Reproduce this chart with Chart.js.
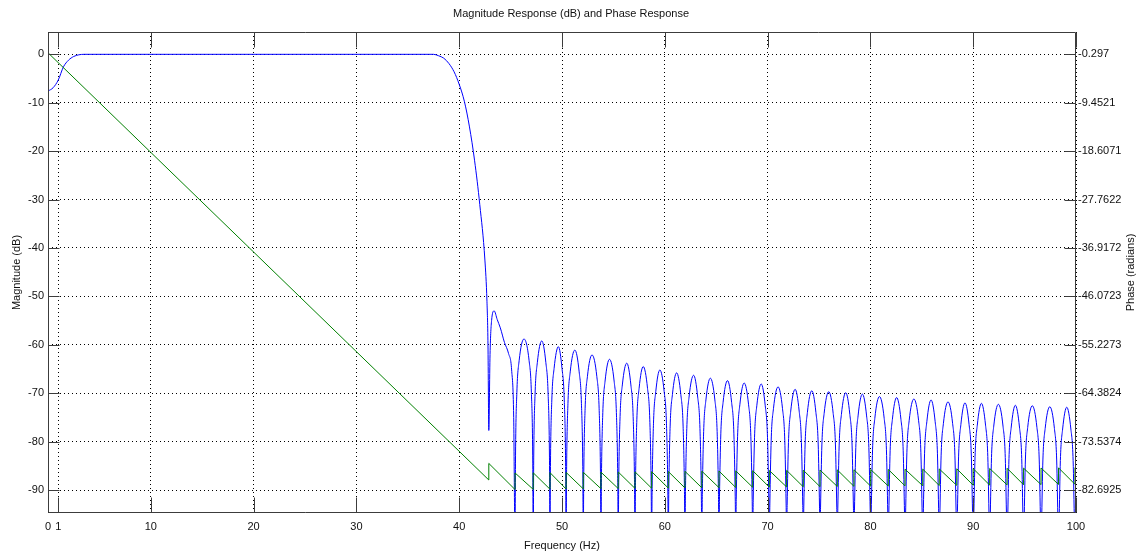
<!DOCTYPE html>
<html>
<head>
<meta charset="utf-8">
<title>Magnitude Response (dB) and Phase Response</title>
<script src="https://cdn.jsdelivr.net/npm/chart.js@4.4.1/dist/chart.umd.min.js"></script>
<style>
    html, body { margin: 0; padding: 0; background: #fff; }
    #wrap { width: 1142px; height: 559px; position: relative; }
</style>
</head>
<body>
<div id="wrap"><canvas id="freqChart"></canvas></div>
<script>
// tick labels
const freqTicks = [0, 1, 10, 20, 30, 40, 50, 60, 70, 80, 90, 100];
const magTicks = [0, -10, -20, -30, -40, -50, -60, -70, -80, -90];
const phaseTicks = [-0.297, -9.4521, -18.6071, -27.7622, -36.9172, -46.0723, -55.2273, -64.3824, -73.5374, -82.6925];

// axis limits (dB)
const yMin = -94.75;
const yMax = 4.61;

// passband + transition band + first sidelobe
const passFreq = [0, 0.5, 1, 1.5, 2, 2.5, 3, 3.5, 37.5, 38, 38.5, 39, 39.5, 40, 40.5, 41, 41.5, 42, 42.5, 42.7, 42.8, 42.88, 43.0, 43.15, 43.4, 43.7, 44, 44.4, 44.8, 45.1, 45.3];
const passDb   = [-7.6, -6.9, -5.3, -2.6, -1.2, -0.45, -0.1, 0, 0, -0.3, -0.8, -1.9, -3.6, -6.2, -9.7, -15, -22, -31, -42.5, -51, -60, -77.7, -62, -55, -53, -54.8, -56.5, -59.5, -61.8, -65.2, -75];

// stopband nulls and sidelobe peaks
const nullFreq = [45.43, 47.2, 48.83, 50.4, 52.07, 53.79, 55.47, 57.1, 58.72, 60.34, 61.96, 63.6, 65.27, 66.9, 68.55, 70.17, 71.85,
                  73.47, 75.1, 76.78, 78.4, 80.03, 81.74, 83.37, 85.09, 86.7, 88.4, 90.0, 91.6, 93.3, 94.9, 96.6, 98.3, 99.9];
const peakFreq = [46.3, 48.03, 49.65, 51.25, 52.92, 54.62, 56.3, 57.9, 59.52, 61.15, 62.8, 64.43, 66.1, 67.72, 69.38, 71.02, 72.68,
                  74.3, 75.95, 77.6, 79.22, 80.88, 82.55, 84.23, 85.9, 87.55, 89.2, 90.8, 92.45, 94.1, 95.75, 97.45, 99.1];
const peakDb   = [-58.8, -59.2, -60.4, -61.1, -62.1, -63.0, -63.8, -64.5, -65.2, -65.8, -66.3, -66.9, -67.4, -67.9, -68.1, -68.7, -69.2,
                  -69.5, -69.7, -69.9, -70.2, -70.7, -70.9, -71.2, -71.4, -71.8, -72.0, -72.1, -72.3, -72.5, -72.6, -72.8, -72.9];
const nullDb = -100;   // nulls run off the bottom of the axes
const endDb = -81;     // value at 100 Hz

// shape of one sidelobe: distance from a null (Hz) and drop below the peak (dB)
const lobeEdge = [0.05, 0.18, 0.4];
const lobeDrop = [24, 11, 4.5];

// phase (radians): linear part, then the sawtooth at each null
const phaseStartFreq = [0, 42.88, 42.88];
const phaseStartRad  = [0, -80.8, -77.66];
const phaseLow  = [-82.60, -82.57, -82.54, -82.51, -82.48, -82.45, -82.42, -82.39, -82.36, -82.33, -82.30, -82.27, -82.24, -82.21, -82.18, -82.15, -82.12,
                   -82.09, -82.06, -82.03, -82.00, -81.97, -81.94, -81.91, -81.88, -81.85, -81.82, -81.79, -81.76, -81.73, -81.70, -81.67, -81.64, -81.61];
const phaseHigh = [-79.46, -79.43, -79.40, -79.37, -79.34, -79.31, -79.28, -79.25, -79.22, -79.19, -79.16, -79.13, -79.10, -79.07, -79.04, -79.01, -78.98,
                   -78.95, -78.92, -78.89, -78.86, -78.83, -78.80, -78.77, -78.74, -78.71, -78.68, -78.65, -78.62, -78.59, -78.56, -78.53, -78.50, -78.47];
const phaseEnd = -78.66;

// build the point lists
const magPoints = passFreq.map((f, i) => ({x: f, y: passDb[i]}));
nullFreq.forEach((n, k) => {
    magPoints.push({x: n, y: nullDb});
    if (k < peakFreq.length) {
        const next = nullFreq[k + 1];
        lobeEdge.forEach((d, j) => magPoints.push({x: n + d, y: peakDb[k] - lobeDrop[j]}));
        magPoints.push({x: peakFreq[k], y: peakDb[k]});
        for (let j = lobeEdge.length - 1; j >= 0; j--) {
            magPoints.push({x: next - lobeEdge[j], y: peakDb[k] - lobeDrop[j]});
        }
    }
});
magPoints.push({x: 100, y: endDb});

const phasePoints = phaseStartFreq.map((f, i) => ({x: f, y: phaseStartRad[i]}));
nullFreq.forEach((n, k) => {
    phasePoints.push({x: n, y: phaseLow[k]});
    phasePoints.push({x: n, y: phaseHigh[k]});
});
phasePoints.push({x: 100, y: phaseEnd});

// right axis is locked to the left one
const radPerDb = (phaseTicks[phaseTicks.length - 1] - phaseTicks[0]) / (magTicks[magTicks.length - 1] - magTicks[0]);
const y1Min = phaseTicks[0] + radPerDb * (yMin - magTicks[0]);
const y1Max = phaseTicks[0] + radPerDb * (yMax - magTicks[0]);

const FONT = 'Liberation Sans, Arial, Helvetica, sans-serif';
const tickFont = {family: FONT, size: 11};

// box, inner tick marks and axis titles (matlab style)
const framePlugin = {
    id: 'frame',
    afterDraw(chart) {
        const {ctx, chartArea: a, scales} = chart;
        const L = Math.round(a.left) + 0.5, R = Math.round(a.right) - 0.5;
        const T = Math.round(a.top) + 0.5, B = Math.round(a.bottom) - 0.5;
        ctx.save();
        ctx.strokeStyle = '#3c3c3c';
        ctx.lineWidth = 1;
        ctx.beginPath();
        ctx.rect(L, T, R - L, B - T);
        scales.x.ticks.forEach(t => {
            const px = Math.round(scales.x.getPixelForValue(t.value)) + 0.5;
            ctx.moveTo(px, B); ctx.lineTo(px, B - 15);
            ctx.moveTo(px, T); ctx.lineTo(px, T + 15);
        });
        scales.y.ticks.forEach(t => {
            const py = Math.round(scales.y.getPixelForValue(t.value)) + 0.5;
            ctx.moveTo(L, py); ctx.lineTo(L + 11, py);
            ctx.moveTo(R, py); ctx.lineTo(R - 11, py);
        });
        ctx.stroke();

        ctx.fillStyle = '#111';
        ctx.font = '11px ' + FONT;
        ctx.textAlign = 'center';
        ctx.textBaseline = 'middle';
        ctx.fillText('Frequency (Hz)', (a.left + a.right) / 2, 546);
        const midY = (a.top + a.bottom) / 2;
        [[17, 'Magnitude (dB)'], [1131, 'Phase (radians)']].forEach(([x, txt]) => {
            ctx.save();
            ctx.translate(x, midY);
            ctx.rotate(-Math.PI / 2);
            ctx.fillText(txt, 0, 0);
            ctx.restore();
        });
        ctx.restore();
    }
};

const ctx = document.getElementById('freqChart');
new Chart(ctx, {
    type: 'line',
    data: {
        datasets: [
            {
                label: 'Magnitude',
                data: magPoints,
                yAxisID: 'y',
                borderColor: '#0000ff',
                borderWidth: 1,
                pointRadius: 0,
                cubicInterpolationMode: 'monotone',
                order: 1
            },
            {
                label: 'Phase',
                data: phasePoints,
                yAxisID: 'y1',
                borderColor: '#008000',
                borderWidth: 1,
                pointRadius: 0,
                tension: 0,
                order: 0
            }
        ]
    },
    options: {
        responsive: true,
        maintainAspectRatio: false,
        animation: false,
        layout: { padding: 0 },
        plugins: {
            legend: { display: false },
            tooltip: { enabled: false },
            title: {
                display: true,
                text: 'Magnitude Response (dB) and Phase Response',
                color: '#111',
                font: {family: FONT, size: 11, weight: 'normal'},
                padding: {top: 7, bottom: 11.8}
            }
        },
        scales: {
            x: {
                type: 'linear',
                min: 0,
                max: 100,
                afterBuildTicks: s => { s.ticks = freqTicks.map(v => ({value: v})); },
                afterFit: s => { s.height = 46; },
                grid: { color: '#000', lineWidth: 1, drawTicks: false },
                border: { display: false, dash: [1, 3] },
                ticks: { padding: 7, color: '#111', font: tickFont, maxRotation: 0, autoSkip: false, callback: v => String(v) }
            },
            y: {
                position: 'left',
                min: yMin,
                max: yMax,
                afterBuildTicks: s => { s.ticks = magTicks.map(v => ({value: v})); },
                afterFit: s => { s.width = 48; },
                grid: { color: '#000', lineWidth: 1, drawTicks: false },
                border: { display: false, dash: [1, 3] },
                ticks: { padding: 4, color: '#111', font: tickFont, autoSkip: false, callback: v => String(v) }
            },
            y1: {
                position: 'right',
                min: y1Min,
                max: y1Max,
                afterBuildTicks: s => { s.ticks = phaseTicks.map(v => ({value: v})); },
                afterFit: s => { s.width = 66; },
                grid: { drawOnChartArea: false, drawTicks: false },
                border: { display: false },
                ticks: { padding: 2, color: '#111', font: tickFont, autoSkip: false, callback: v => String(v) }
            }
        }
    },
    plugins: [framePlugin]
});
</script>
</body>
</html>
